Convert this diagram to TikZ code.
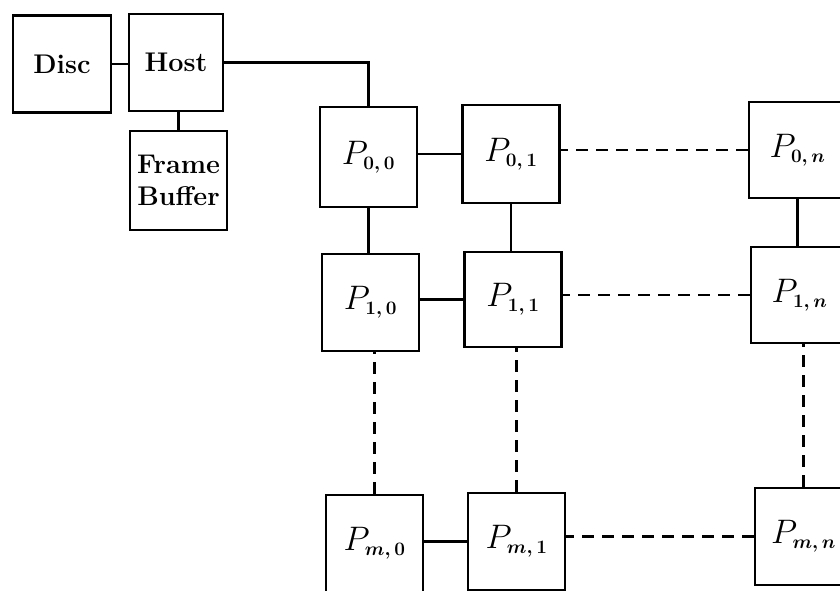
\RequirePackage{fix-cm}
\documentclass[tikz,border=0pt]{standalone}
\newcommand\psub[1]{\hbox{\fontsize{19}{19}\selectfont\boldmath$#1$}}
\newcommand\plab[1]{$P_{\psub{#1}}$}
\begin{document}
\begin{tikzpicture}[x=1pt,y=-1pt,
  box/.style={draw,line width=2.8pt,inner sep=0pt,minimum width=97pt,minimum height=97pt,align=center},
  tbox/.style={box,font=\fontsize{27}{32}\selectfont\bfseries},
  pbox/.style={box,font=\fontsize{34}{36}\selectfont},
  link/.style={line width=2.8pt},
  dlink/.style={line width=2.8pt,dash pattern=on 12pt off 8pt}]
\useasboundingbox (0,0) rectangle (840,590);
\clip (0,0) rectangle (840,590);
\node[tbox,minimum width=98pt] (disc) at (62,64) {Disc};
\node[tbox,minimum width=94pt] (host) at (176,62.5) {Host};
\node[tbox,minimum height=99pt] (fb) at (178.5,180.5) {Frame\\Buffer};
\node[pbox,minimum height=100pt] (p00) at (368.5,157) {\plab{0,0}};
\node[pbox,minimum height=98pt] (p01) at (511,154) {\plab{0,1}};
\node[pbox,minimum height=96pt] (p0n) at (797.5,150) {\plab{0,n}};
\node[pbox] (p10) at (370.5,302.5) {\plab{1,0}};
\node[pbox,minimum height=95pt] (p11) at (513,299.5) {\plab{1,1}};
\node[pbox,minimum height=96pt] (p1n) at (799.5,295) {\plab{1,n}};
\node[pbox] (pm0) at (374.5,543.5) {\plab{m,0}};
\node[pbox] (pm1) at (516.5,541.5) {\plab{m,1}};
\node[pbox] (pmn) at (803.5,536.5) {\plab{m,n}};
\draw[link] (disc.east) -- (disc.east -| host.west);
\draw[link] (fb.north) -- (fb.north |- host.south);
\draw[link] (host.east) -| (p00.north);
\draw[link] (p01.west) -- (p01.west -| p00.east);
\draw[link] (p11.west) -- (p11.west -| p10.east);
\draw[link] (pm1.west) -- (pm1.west -| pm0.east);
\draw[link] (p00.south) -- (p00.south |- p10.north);
\draw[link] (p01.south) -- (p01.south |- p11.north);
\draw[link] (p0n.south) -- (p0n.south |- p1n.north);
\draw[dlink] (p0n.west) -- (p0n.west -| p01.east);
\draw[dlink] (p1n.west) -- (p1n.west -| p11.east);
\draw[dlink] (pmn.west) -- (pmn.west -| pm1.east);
\draw[dlink] (pm0.north) -- (pm0.north |- p10.south);
\draw[dlink] (pm1.north) -- (pm1.north |- p11.south);
\draw[dlink] (pmn.north) -- (pmn.north |- p1n.south);
\end{tikzpicture}
\end{document}
